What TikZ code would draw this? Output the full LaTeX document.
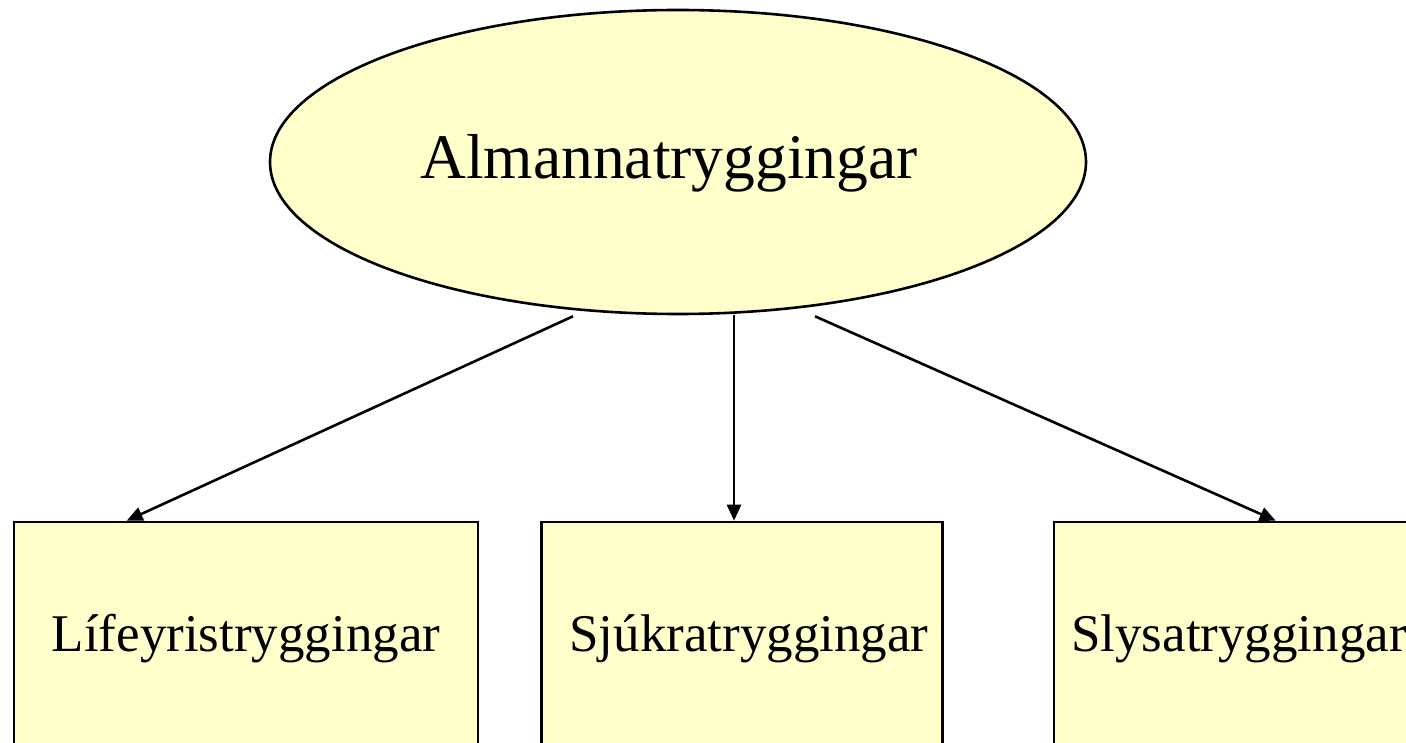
\documentclass[tikz,border=0pt]{standalone}
\usepackage{fontspec}
\setmainfont{Liberation Serif}
\usetikzlibrary{shapes.geometric,arrows.meta,calc}
\definecolor{nodefill}{RGB}{255,255,204}
\begin{document}
\begin{tikzpicture}[x=1pt,y=-1pt,
  topnode/.style={ellipse,draw=black,line width=2.6pt,fill=nodefill,minimum width=816pt,minimum height=304pt,inner sep=0pt},
  leaf/.style={rectangle,draw=black,line width=2.6pt,fill=nodefill,minimum height=232pt,inner sep=0pt},
  toplabel/.style={inner sep=0pt,font=\fontsize{63.5}{70}\selectfont},
  leaflabel/.style={inner sep=0pt,font=\fontsize{53}{60}\selectfont},
  edge/.style={line width=2.6pt,-{Triangle[length=16pt,width=14pt]}}]
\useasboundingbox (0,0) rectangle (1406,743);
\node[topnode] (top) at (678,162) {};
\node[toplabel] (toptext) at (669,163) {Almannatryggingar};
\node[leaf,minimum width=464pt] (b1) at (246,638) {};
\node[leaf,minimum width=401pt] (b2) at (742,638) {};
\node[leaf,minimum width=370pt] (b3) at (1239,638) {};
\node[leaflabel] (t1) at (246,639) {Lífeyristryggingar};
\node[leaflabel] (t2) at (749,639) {Sjúkratryggingar};
\node[leaflabel] (t3) at (1239,639) {Slysatryggingar};
\coordinate (s1) at ($(top.south)+(-105,1)$);
\coordinate (s2) at ($(top.south)+(56,0)$);
\coordinate (s3) at ($(top.south)+(137,1)$);
\coordinate (e1) at ($(b1.north west)+(114,0)$);
\coordinate (e3) at ($(b3.north west)+(223,0)$);
\draw[edge] (s1) -- (e1);
\draw[edge] (s2) -- (s2 |- b2.north);
\draw[edge] (s3) -- (e3);
\end{tikzpicture}
\end{document}
